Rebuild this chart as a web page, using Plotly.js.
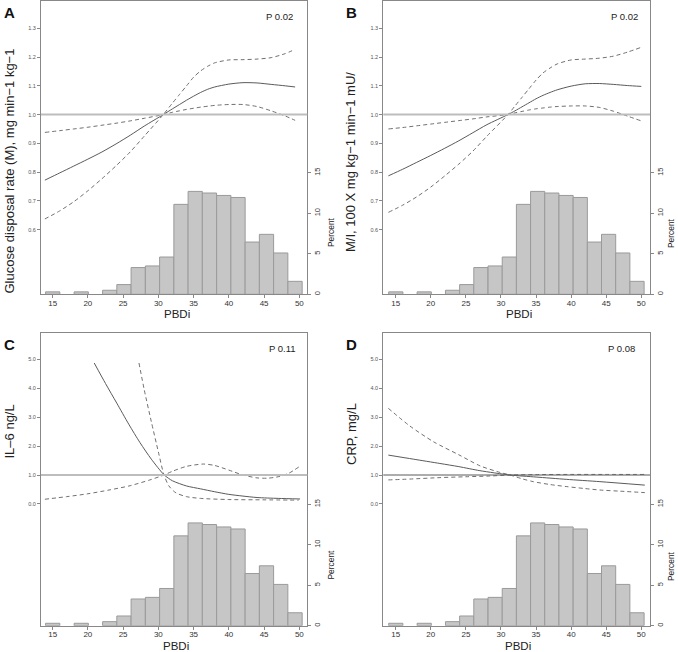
<!DOCTYPE html>
<html>
<head>
<meta charset="utf-8">
<script src="https://cdn.plot.ly/plotly-3.0.1.min.js"></script>
<style>html,body{margin:0;padding:0;background:#fff;}#chart{width:678px;height:652px;}</style>
</head>
<body>
<div id="chart"></div>
<script>
// ---------- data ----------
const xTicks = [15, 20, 25, 30, 35, 40, 45, 50];
const pctTicks = [0, 5, 10, 15];
const ticksAB = [0.6, 0.7, 0.8, 0.9, 1.0, 1.1, 1.2, 1.3];
const ticksCD = [0, 1, 2, 3, 4, 5];

// histogram of PBDi (percent), same in every panel
const binCenters = [15.01, 17.03, 19.06, 21.08, 23.10, 25.12, 27.14, 29.17, 31.19, 33.21, 35.23, 37.25, 39.28, 41.30, 43.32, 45.34, 47.36, 49.39];
const binWidth = 2.022;
const percent = [0.3, null, 0.3, null, 0.5, 1.2, 3.3, 3.5, 4.6, 11.1, 12.7, 12.5, 12.2, 11.95, 6.45, 7.4, 5.1, 1.6];

// Panel A: glucose disposal rate
const xA = [13.9, 16, 18, 20, 22, 24, 26, 28, 30.7, 32, 33, 34, 35, 36, 37, 38, 40, 42, 44, 46, 48, 49.4];
const fitA = [0.772, 0.797, 0.821, 0.845, 0.870, 0.898, 0.928, 0.960, 1.0, 1.020, 1.035, 1.050, 1.064, 1.077, 1.088, 1.096, 1.106, 1.111, 1.110, 1.105, 1.100, 1.096];
const ciA1 = [0.938, 0.944, 0.950, 0.956, 0.963, 0.970, 0.978, 0.987, 1.0, 1.008, 1.013, 1.018, 1.022, 1.026, 1.029, 1.032, 1.035, 1.035, 1.028, 1.013, 0.995, 0.980];
const ciA2 = [0.637, 0.665, 0.697, 0.735, 0.777, 0.822, 0.870, 0.925, 1.0, 1.040, 1.070, 1.100, 1.130, 1.152, 1.168, 1.180, 1.190, 1.191, 1.193, 1.198, 1.212, 1.227];

// Panel B: M/I
const xB = [13.96, 16, 18, 20, 22, 24, 26, 28, 31.0, 32, 33, 34, 35, 36, 37, 38, 40, 42, 44, 46, 48, 50];
const fitB = [0.787, 0.810, 0.834, 0.858, 0.883, 0.909, 0.937, 0.965, 1.0, 1.013, 1.027, 1.041, 1.055, 1.067, 1.077, 1.086, 1.099, 1.107, 1.108, 1.105, 1.101, 1.098];
const ciB1 = [0.950, 0.955, 0.961, 0.967, 0.973, 0.979, 0.985, 0.992, 1.0, 1.006, 1.011, 1.016, 1.020, 1.023, 1.026, 1.028, 1.030, 1.030, 1.025, 1.012, 0.995, 0.978];
const ciB2 = [0.660, 0.685, 0.714, 0.748, 0.787, 0.828, 0.873, 0.925, 1.0, 1.030, 1.060, 1.090, 1.120, 1.145, 1.162, 1.176, 1.190, 1.193, 1.196, 1.203, 1.217, 1.234];

// Panel C: IL-6
const xCfit = [20.9, 22.5, 24.1, 25.8, 27.4, 29, 30.84, 32, 34, 36, 38, 40, 42, 44, 47, 50.1];
const fitC = [4.88, 4.17, 3.49, 2.76, 2.12, 1.55, 1.0, 0.80, 0.62, 0.52, 0.42, 0.33, 0.27, 0.22, 0.19, 0.17];
const xC1 = [27.25, 28, 29, 30, 30.8, 31.5, 32.5, 34, 36, 40, 45, 49.9];
const ciC1 = [4.88, 3.95, 2.85, 1.8, 1.0, 0.62, 0.38, 0.25, 0.19, 0.15, 0.14, 0.13];
const xC2 = [13.9, 17, 20, 23, 26, 28.8, 30.8, 32, 34, 36.4, 38, 40, 42, 44, 45.5, 47, 48.5, 50];
const ciC2 = [0.16, 0.25, 0.35, 0.48, 0.63, 0.83, 1.0, 1.13, 1.3, 1.38, 1.33, 1.17, 1.0, 0.9, 0.89, 0.94, 1.06, 1.29];

// Panel D: CRP
const xDfit = [13.95, 17.5, 21.3, 24, 27, 31.3, 35, 39.3, 44.1, 50.5];
const fitD = [1.69, 1.55, 1.40, 1.29, 1.15, 1.0, 0.93, 0.85, 0.77, 0.65];
const xD1 = [13.95, 17, 20.4, 24, 27, 29.85, 31.3, 33, 34.6, 37, 39.3, 42, 44.1, 47, 50.5];
const ciD1 = [3.31, 2.7, 2.15, 1.7, 1.32, 1.09, 1.0, 0.87, 0.77, 0.67, 0.60, 0.53, 0.48, 0.44, 0.39];
const xD2 = [13.95, 17, 21.3, 25, 28.4, 31.3, 35, 40, 45, 50.5];
const ciD2 = [0.83, 0.86, 0.91, 0.94, 0.965, 1.0, 1.015, 1.02, 1.02, 1.02];

// ---------- build ----------
const W = 678, H = 652;
const FONT = 'Liberation Sans, Arial, Helvetica, sans-serif';
const px = v => v / W;
const py = v => 1 - v / H;

const panels = [
  {xr: [13.35, 51.13], yr: [0.375, 1.395], xd: [41, 307.3], yd: [1, 294.3], ticks: ticksAB,
   curves: [[xA, fitA, 's'], [xA, ciA1, 'd'], [xA, ciA2, 'd']], ref: 'light'},
  {xr: [13.23, 51.24], yr: [0.375, 1.395], xd: [383.3, 650], yd: [1, 294.3], ticks: ticksAB,
   curves: [[xB, fitB, 's'], [xB, ciB1, 'd'], [xB, ciB2, 'd']], ref: 'light'},
  {xr: [13.35, 51.13], yr: [-4.22, 5.93], xd: [41, 307.3], yd: [332.7, 625.7], ticks: ticksCD,
   curves: [[xCfit, fitC, 's'], [xC1, ciC1, 'd'], [xC2, ciC2, 'd']], ref: 'light'},
  {xr: [13.23, 51.24], yr: [-4.22, 5.93], xd: [383.3, 650], yd: [332.7, 625.7], ticks: ticksCD,
   curves: [[xDfit, fitD, 's'], [xD1, ciD1, 'd'], [xD2, ciD2, 'd']], ref: 'dark'}
];

const data = [];
const layout = {
  width: W, height: H,
  margin: {l: 0, r: 0, t: 0, b: 0},
  paper_bgcolor: '#fff', plot_bgcolor: '#fff',
  showlegend: false,
  font: {family: FONT, color: '#222'},
  shapes: [], annotations: []
};

panels.forEach((p, i) => {
  const xid = i === 0 ? 'x' : 'x' + (i + 1);
  const pid = 'y' + (2 * i === 0 ? '' : (2 * i + 1));
  const cid = 'y' + (2 * i + 2);
  const xKey = i === 0 ? 'xaxis' : 'xaxis' + (i + 1);
  const pKey = i === 0 ? 'yaxis' : 'yaxis' + (2 * i + 1);
  const cKey = 'yaxis' + (2 * i + 2);
  const xdom = [px(p.xd[0]), px(p.xd[1])];
  const ydom = [py(p.yd[1]), py(p.yd[0])];

  layout[xKey] = {
    domain: xdom, range: p.xr, anchor: pid,
    tickvals: xTicks, ticks: 'outside', ticklen: 3, tickcolor: '#888',
    ticklabelstandoff: -2,
    tickfont: {size: 8, color: '#333', family: FONT},
    showline: true, linecolor: '#888', linewidth: 1, mirror: true,
    showgrid: false, zeroline: false, fixedrange: true
  };
  layout[pKey] = {
    domain: ydom, range: [0, 36.2], anchor: xid, side: 'right',
    tickvals: pctTicks, tickangle: -90, ticks: 'outside', ticklen: 3, tickcolor: '#888',
    tickfont: {size: 7.5, color: '#333', family: FONT},
    showline: true, linecolor: '#888', linewidth: 1,
    showgrid: false, zeroline: false, fixedrange: true
  };
  layout[cKey] = {
    overlaying: pid, anchor: xid, side: 'left', range: p.yr,
    tickvals: p.ticks, ticktext: p.ticks.map(v => v.toFixed(1)),
    ticks: 'outside', ticklen: 3, tickcolor: '#888',
    tickfont: {size: 5.5, color: '#555', family: FONT},
    showline: true, linecolor: '#888', linewidth: 1,
    showgrid: false, zeroline: false, fixedrange: true
  };

  data.push({
    type: 'bar', x: binCenters, y: percent, width: binWidth,
    xaxis: xid, yaxis: pid,
    marker: {color: '#c6c6c6', line: {color: '#9a9a9a', width: 1}},
    hoverinfo: 'skip'
  });

  layout.shapes.push({
    type: 'line', xref: xid + ' domain', yref: cid, x0: 0, x1: 1, y0: 1, y1: 1,
    line: p.ref === 'light' ? {color: '#bdbdbd', width: 2} : {color: '#5a5a5a', width: 1},
    layer: 'above'
  });

  p.curves.forEach(c => {
    data.push({
      type: 'scatter', mode: 'lines', x: c[0], y: c[1], xaxis: xid, yaxis: cid,
      line: c[2] === 's' ? {color: '#5a5a5a', width: 1, shape: 'spline', smoothing: 0.7}
                         : {color: '#707070', width: 1, dash: '4px,3px', shape: 'spline', smoothing: 0.7},
      hoverinfo: 'skip'
    });
  });
});

function ann(text, x, y, size, opts) {
  layout.annotations.push(Object.assign({
    text: text, xref: 'paper', yref: 'paper', x: px(x), y: py(y),
    xanchor: 'center', yanchor: 'middle', showarrow: false,
    font: {size: size, family: FONT, color: '#222'}
  }, opts || {}));
}

// panel letters
ann('<b>A</b>', 9, 13, 15, {font: {size: 15, family: FONT, color: '#111'}});
ann('<b>B</b>', 351, 13, 15, {font: {size: 15, family: FONT, color: '#111'}});
ann('<b>C</b>', 9, 344.5, 15, {font: {size: 15, family: FONT, color: '#111'}});
ann('<b>D</b>', 351, 344.5, 15, {font: {size: 15, family: FONT, color: '#111'}});

// p values
ann('P 0.02', 279.5, 16.5, 9.5);
ann('P 0.02', 624.5, 16.5, 9.5);
ann('P 0.11', 282, 348, 9.5);
ann('P 0.08', 621.7, 348, 9.5);

// y titles
ann('Glucose disposal rate (M), mg min\u22121 kg\u22121', 9, 171.5, 13, {textangle: -90});
ann('M/I, 100 X mg kg\u22121 min\u22121 mU/', 350.5, 162.5, 13, {textangle: -90});
ann('IL\u20136 ng/L', 9.5, 432, 13, {textangle: -90});
ann('CRP, mg/L', 351, 434, 13, {textangle: -90});

// x titles
ann('PBDi', 177, 314, 11.5);
ann('PBDi', 519, 314, 11.5);
ann('PBDi', 176, 645.5, 11.5);
ann('PBDi', 518, 645.5, 11.5);

// Percent titles
ann('Percent', 330.5, 232.5, 8.4, {textangle: -90});
ann('Percent', 671, 233, 8.4, {textangle: -90});
ann('Percent', 330.5, 565, 8.4, {textangle: -90});
ann('Percent', 671, 566, 8.4, {textangle: -90});

Plotly.newPlot('chart', data, layout, {displayModeBar: false, staticPlot: true});
</script>
</body>
</html>
